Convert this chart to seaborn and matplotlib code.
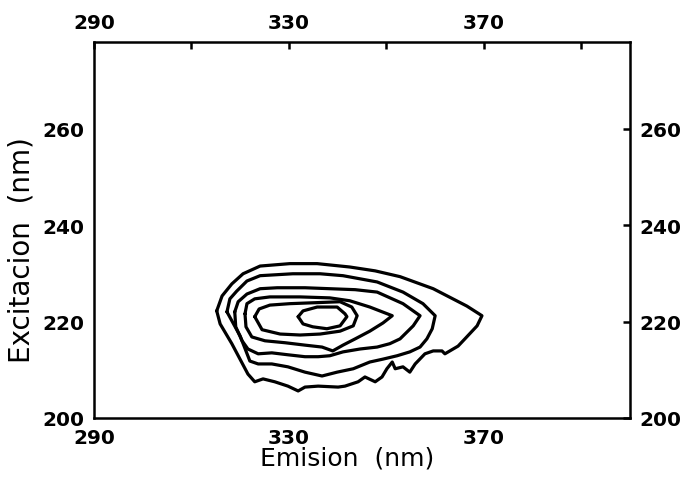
import matplotlib
matplotlib.use("Agg")
import matplotlib.pyplot as plt
import seaborn as sns
import pandas as pd

# Contour lines of the excitation-emission map (emission nm, excitation nm)
c1_em = [315.2, 316.3, 318.3, 320.6, 324.1, 330.2, 335.8, 342.5, 347.7, 352.8, 359.6, 366.5,
         369.6, 368.6, 366.1, 364.7, 362.0, 361.4, 359.6, 357.9, 355.9, 354.8, 353.4, 351.8,
         351.2, 350.1, 349.1, 347.7, 345.6, 344.2, 341.5, 340.1, 336.0, 333.3, 331.9, 329.8,
         327.1, 324.7, 323.0, 321.6, 318.3, 315.9]
c1_ex = [222.2, 225.3, 227.8, 229.9, 231.5, 232.0, 232.0, 231.3, 230.5, 229.3, 226.8, 223.2,
         221.2, 219.1, 216.4, 214.9, 213.3, 213.9, 213.9, 213.3, 211.2, 209.5, 210.6, 210.2,
         211.6, 210.2, 208.5, 207.5, 208.5, 207.5, 206.6, 206.4, 206.6, 206.4, 205.6, 206.6,
         207.5, 208.1, 207.5, 209.1, 215.4, 219.5]

c2_em = [317.3, 317.9, 319.3, 321.4, 324.1, 330.8, 336.4, 341.1, 348.1, 353.4, 357.5, 360.0,
         359.4, 358.3, 356.9, 354.8, 352.2, 349.3, 346.6, 343.2, 339.9, 336.8, 333.3, 329.8,
         326.5, 323.7, 322.0, 320.0]
c2_ex = [222.0, 224.7, 226.3, 228.4, 229.5, 229.9, 229.9, 229.5, 228.2, 226.1, 223.7, 221.2,
         218.5, 216.4, 214.7, 213.7, 212.9, 212.2, 211.6, 210.2, 209.5, 208.7, 209.5, 210.6,
         211.2, 211.2, 211.8, 217.0]

c3_em = [318.9, 319.6, 321.4, 324.1, 327.6, 333.3, 338.4, 343.6, 348.1, 353.4, 356.9, 355.5,
         354.2, 352.8, 350.7, 348.1, 344.6, 341.1, 338.4, 336.0, 333.3, 329.8, 326.5, 323.7,
         321.6, 320.4, 319.1]
c3_ex = [222.0, 224.1, 225.7, 226.8, 227.0, 227.0, 226.8, 226.6, 226.1, 223.7, 221.2, 219.1,
         217.8, 216.4, 215.4, 214.7, 214.3, 213.7, 212.9, 212.7, 212.7, 213.1, 213.5, 213.3,
         214.3, 216.0, 218.9]

c4_em = [321.0, 321.4, 323.0, 326.1, 332.3, 338.4, 342.5, 346.6, 351.2, 349.3, 346.6, 343.6,
         341.1, 339.0, 336.8, 333.3, 329.2, 325.1, 322.4, 321.2]
c4_ex = [221.6, 223.7, 224.7, 225.1, 225.1, 224.9, 224.3, 223.0, 221.2, 219.7, 218.0, 216.4,
         215.1, 213.9, 214.7, 215.1, 215.6, 216.0, 216.8, 218.9]

c5_em = [323.0, 323.9, 326.1, 330.2, 335.4, 340.5, 342.9, 344.0, 343.2, 340.5, 336.4, 332.3,
         328.2, 324.5]
c5_ex = [221.0, 222.6, 223.4, 223.7, 223.9, 224.1, 223.0, 221.2, 219.1, 218.0, 217.4, 217.2,
         217.4, 218.3]

c6_em = [331.9, 332.9, 335.8, 339.9, 341.5, 341.9, 340.5, 337.8, 334.9, 332.9]
c6_ex = [221.0, 222.2, 223.0, 223.0, 221.6, 221.0, 219.1, 218.5, 218.9, 219.5]

contours = [(c1_em, c1_ex), (c2_em, c2_ex), (c3_em, c3_ex),
            (c4_em, c4_ex), (c5_em, c5_ex), (c6_em, c6_ex)]

x_ticks = [290, 310, 330, 350, 370, 390]
x_labels = ["290", "", "330", "", "370", ""]
y_ticks = [200, 220, 240, 260]
y_labels = ["200", "220", "240", "260"]

rows = []
for lvl, (em, ex) in enumerate(contours):
    pts = list(zip(em, ex)) + [(em[0], ex[0])]
    for k, (a, b) in enumerate(pts):
        rows.append({"Emision": a, "Excitacion": b, "level": lvl, "order": k})
df = pd.DataFrame(rows)

sns.set_style("white")
plt.rcParams["font.family"] = ["DejaVu Sans"]

fig = plt.figure(figsize=(6.85, 4.81), dpi=100)
ax = fig.add_axes([0.137, 0.129, 0.783, 0.782])

sns.lineplot(data=df, x="Emision", y="Excitacion", units="level", estimator=None,
             sort=False, color="black", linewidth=2.3, ax=ax, legend=False)

ax.set_xlim(290, 400)
ax.set_ylim(200, 278)

for s in ax.spines.values():
    s.set_visible(True)
    s.set_color("black")
    s.set_linewidth(1.8)

ax.set_xticks(x_ticks)
ax.set_xticklabels(x_labels)
ax.set_yticks(y_ticks)
ax.set_yticklabels(y_labels)
ax.tick_params(axis="both", which="both", direction="in", length=5, width=1.8,
               top=True, right=True, labeltop=True, labelright=True,
               labelsize=14.5, colors="black")
ax.tick_params(axis="x", pad=7)
ax.tick_params(axis="y", pad=6.5)
for lab in ax.get_xticklabels() + ax.get_yticklabels():
    lab.set_fontweight("bold")

ax.set_xlabel("Emision  (nm)", fontsize=18, color="black")
ax.set_ylabel("Excitacion  (nm)", fontsize=20, color="black")
ax.xaxis.set_label_coords(0.472, -0.104)
ax.xaxis.label.set_va("center")
ax.yaxis.set_label_coords(-0.134, 0.45)
ax.yaxis.label.set_va("center")

fig.savefig("out.png", dpi=100, facecolor="white")
